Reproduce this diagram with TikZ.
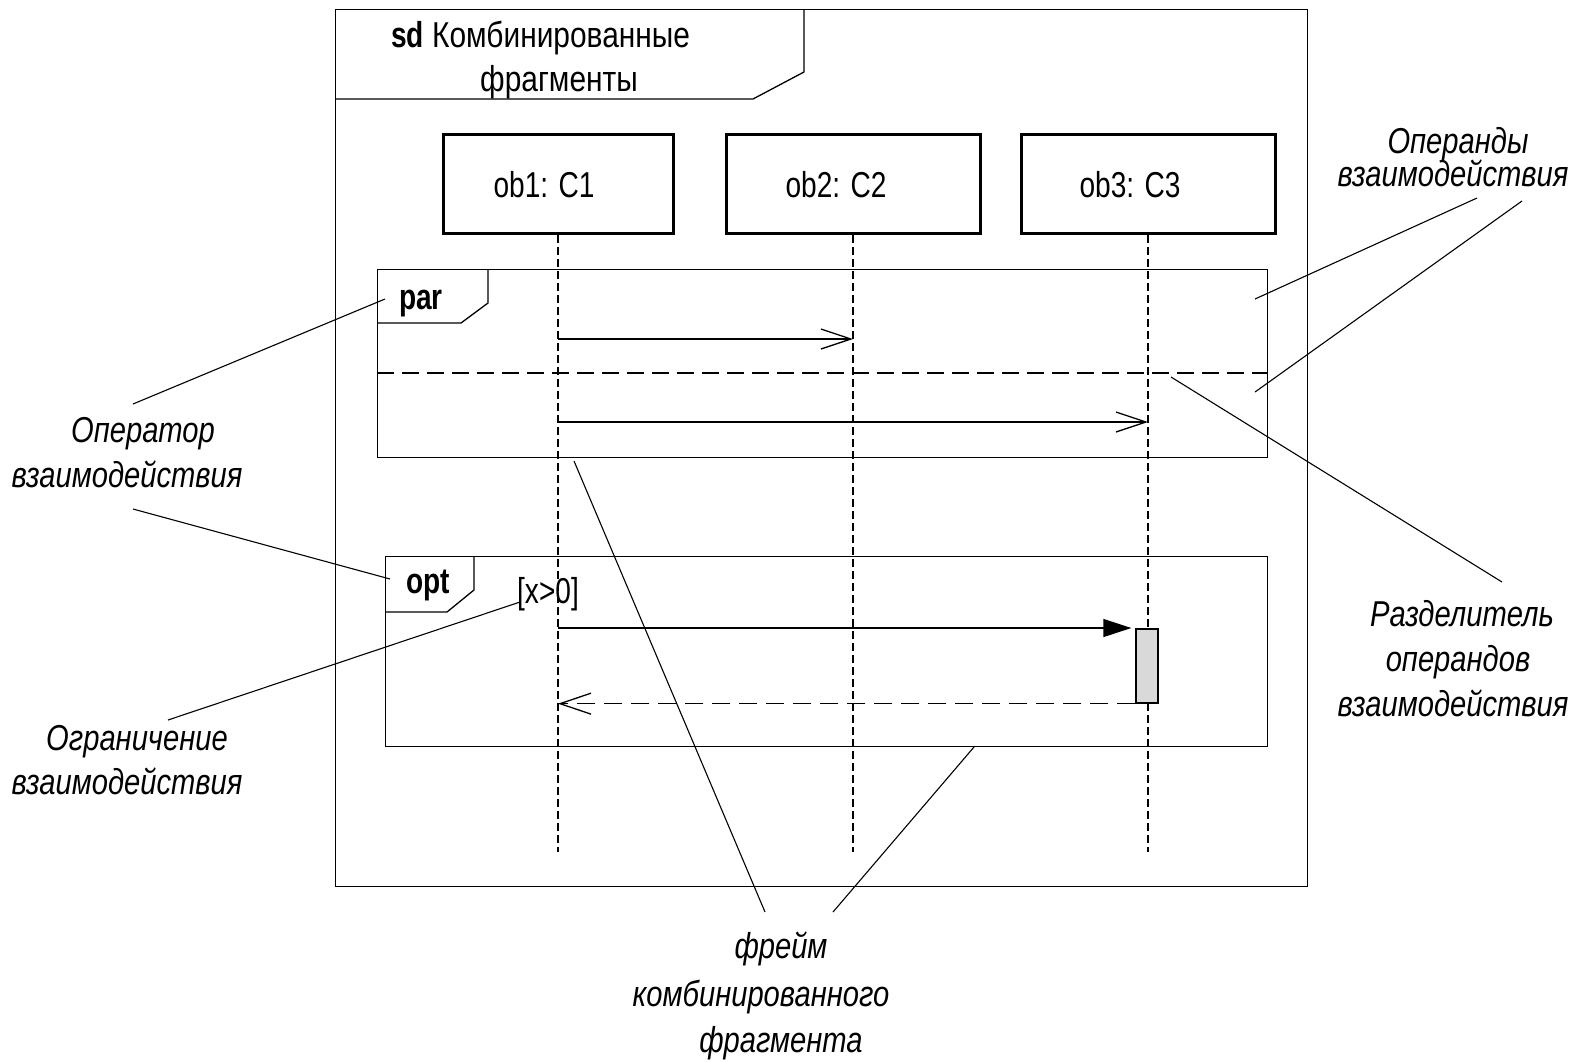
\documentclass[tikz,border=0pt]{standalone}
\usepackage{fontspec}
\setmainfont{Liberation Sans}[FakeStretch=0.78]
\newfontfamily\titlefont{Liberation Sans}[FakeStretch=0.83]
\newfontfamily\notefont{Liberation Sans}[FakeStretch=0.81]
\usetikzlibrary{arrows.meta}

\begin{document}
\begin{tikzpicture}[x=1pt,y=-1pt,
  txt/.style={font=\fontsize{36}{42}\selectfont, inner sep=0pt, anchor=base},
  titletxt/.style={font=\titlefont\fontsize{36}{42}\selectfont, inner sep=0pt, anchor=base},
  tabtxt/.style={font=\fontsize{36}{42}\selectfont\bfseries, inner sep=0pt, anchor=base},
  note/.style={font=\notefont\itshape\fontsize{36}{42}\selectfont, inner sep=0pt, anchor=base},
  framebox/.style={draw, line width=1.3pt, inner sep=0pt, anchor=north west},
  frameline/.style={line width=1.3pt},
  lifebox/.style={draw, line width=3pt, inner sep=0pt, minimum height=99pt},
  lifeline/.style={line width=1.3pt, dash pattern=on 8pt off 4pt},
  divider/.style={line width=1.3pt, dash pattern=on 17pt off 8pt},
  msg/.style={line width=1.3pt, -{Straight Barb[length=30pt,width=20pt]}},
  syncmsg/.style={line width=1.3pt, -{Triangle[length=28pt,width=18pt]}, shorten >=4pt},
  retmsg/.style={line width=1.3pt, dash pattern=on 18pt off 9pt, -{Straight Barb[length=31pt,width=21pt]}},
  actbox/.style={draw, line width=1.3pt, fill=gray!30, inner sep=0pt, minimum width=22pt, minimum height=74pt},
  pointer/.style={line width=1.1pt}]

\useasboundingbox (0,0) rectangle (1578,1061);

% diagram frame with its name tab
\node[framebox, minimum width=972pt, minimum height=877pt] (sd) at (335,9) {};
\draw[frameline] (335,99) -- (753,99) -- (804,72) -- (804,9);
\node[tabtxt, anchor=base west] (sdkw) at (391,47) {sd};
\node[titletxt, anchor=base west] (sdname) at (432,47) {Комбинированные};
\node[titletxt] (sdname2) at (559,91) {фрагменты};

% participants
\node[lifebox, minimum width=230pt] (ob1) at (558,184) {};
\node[lifebox, minimum width=254pt] (ob2) at (853,184) {};
\node[lifebox, minimum width=254pt] (ob3) at (1148,184) {};
\node[txt] (ob1lbl) at (544,197) {ob1: C1};
\node[txt] (ob2lbl) at (836,197) {ob2: C2};
\node[txt] (ob3lbl) at (1130,197) {ob3: C3};

\coordinate (bottom) at (0,852);
\draw[lifeline] (ob1.south) -- (ob1.south |- bottom);
\draw[lifeline] (ob2.south) -- (ob2.south |- bottom);
\draw[lifeline] (ob3.south) -- (ob3.south |- bottom);

% par fragment
\node[framebox, minimum width=890pt, minimum height=188pt] (par) at (377,269) {};
\draw[frameline] (377,323) -- (461,323) -- (488,303) -- (488,269);
\node[tabtxt] (parlbl) at (421,309) {par};
\coordinate (sep) at (0,373);
\draw[divider] (par.west |- sep) -- (par.east |- sep);
\coordinate (r1) at (0,339);
\coordinate (r2) at (0,422);
\draw[msg] (ob1.south |- r1) -- (ob2.south |- r1);
\draw[msg] (ob1.south |- r2) -- (ob3.south |- r2);

% opt fragment
\node[framebox, minimum width=882pt, minimum height=190pt] (opt) at (385,556) {};
\draw[frameline] (385,612) -- (447,612) -- (474,590) -- (474,556);
\node[tabtxt] (optlbl) at (428,593) {opt};
\node[txt] (guard) at (548,603) {[x>0]};
\node[actbox] (act) at (1147,666) {};
\coordinate (r3) at (0,628);
\draw[syncmsg] (ob1.south |- r3) -- (act.west |- r3);
\draw[retmsg] (act.south west) -- (ob1.south |- act.south);

% annotations
\node[note] (n1a) at (1458,153) {Операнды};
\node[note] (n1b) at (1453,186) {взаимодействия};
\coordinate (n1p) at (1477,198);
\coordinate (n1q) at (1522,201);
\coordinate (n1x) at (1255,299);
\coordinate (n1y) at (1255,392);
\draw[pointer] (n1p) -- (n1x);
\draw[pointer] (n1q) -- (n1y);

\node[note] (n2a) at (143,442) {Оператор};
\node[note] (n2b) at (127,487) {взаимодействия};
\coordinate (n2p) at (133,404);
\coordinate (n2q) at (133,509);
\coordinate (n2x) at (385,299);
\coordinate (n2y) at (390,579);
\draw[pointer] (n2p) -- (n2x);
\draw[pointer] (n2q) -- (n2y);

\node[note] (n3a) at (137,750) {Ограничение};
\node[note] (n3b) at (127,794) {взаимодействия};
\coordinate (n3p) at (168,720);
\coordinate (n3x) at (520,602);
\draw[pointer] (n3p) -- (n3x);

\node[note] (n4a) at (1462,626) {Разделитель};
\node[note] (n4b) at (1458,671) {операндов};
\node[note] (n4c) at (1453,716) {взаимодействия};
\coordinate (n4p) at (1502,582);
\coordinate (n4x) at (1171,377);
\draw[pointer] (n4p) -- (n4x);

\node[note] (n5a) at (781,958) {фрейм};
\node[note] (n5b) at (761,1006) {комбинированного};
\node[note] (n5c) at (781,1052) {фрагмента};
\coordinate (n5p) at (765,912);
\coordinate (n5q) at (833,912);
\coordinate (n5x) at (574,461);
\coordinate (n5y) at (974,747);
\draw[pointer] (n5p) -- (n5x);
\draw[pointer] (n5q) -- (n5y);
\end{tikzpicture}
\end{document}
